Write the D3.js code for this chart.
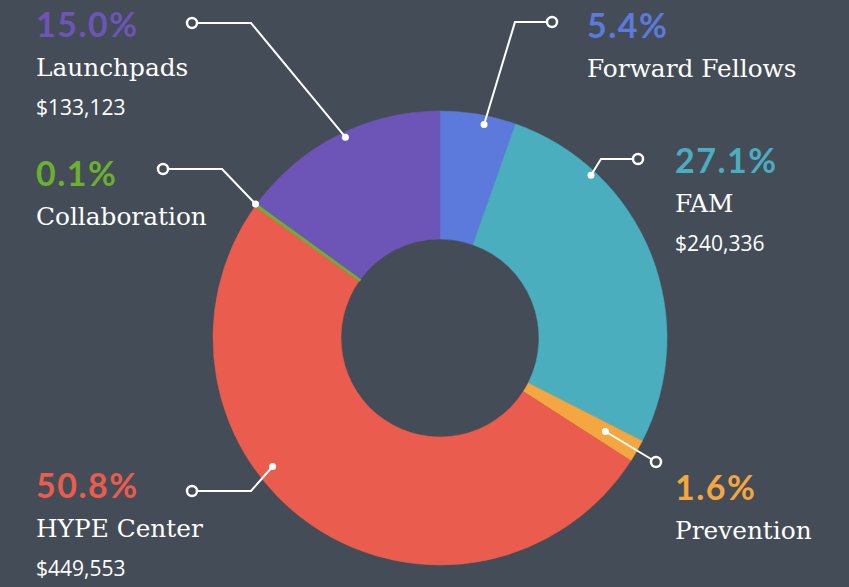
<!DOCTYPE html>
<html lang="en">
  <head>
    <meta charset="UTF-8" />
    <title>Budget share by program</title>
    <script src="https://d3js.org/d3.v7.min.js"></script>
    <style>
      body {
        margin: 0;
        background: #444d57;
      }
      .pct {
        font-family: Lato, sans-serif;
        font-weight: 700;
        font-size: 34px;
        letter-spacing: 1.5px;
      }
      .name {
        font-family: "DejaVu Serif", serif;
        font-size: 24.8px;
        fill: #fff;
      }
      .amount {
        font-family: "Open Sans", sans-serif;
        font-size: 21px;
        fill: #fff;
      }
      .leader {
        fill: none;
        stroke: #fff;
        stroke-width: 2;
      }
    </style>
  </head>
  <body>
    <svg id="chart" width="849" height="587"></svg>

    <script>
      // data, clockwise from 12 o'clock
      const programs = ["Forward Fellows", "FAM", "Prevention", "HYPE Center", "Collaboration", "Launchpads"];
      const shares = [5.4, 27.1, 1.6, 50.8, 0.1, 15.0];
      const amounts = [null, 240336, null, 449553, null, 133123];
      const colors = ["#5b7adb", "#4aaebf", "#f4a641", "#ea5c4d", "#6bb02f", "#6c55b6"];

      // annotation layout: where the dot sits inside its slice (fraction of angle, radius),
      // elbow / end point of the leader and the label block
      const anchorT = [0.6, 0.24, 0.43, 0.6, 1.0, 0.533];
      const anchorR = [218, 222, 190, 211, 228, 222];
      const elbows = [[515, 22], [601, 159], null, [251, 491], [222, 169], [251, 23]];
      const ends = [[552, 22], [638, 159], [656, 462], [192, 491], [163, 169], [192, 23]];
      const labelX = [587, 675, 675, 36, 36, 36];
      const labelY = [38, 173, 500, 498, 186, 37];

      const svg = d3.select("#chart");
      const cx = 440, cy = 338;
      const g = svg.append("g").attr("transform", `translate(${cx},${cy})`);

      const data = programs.map((p, i) => ({ name: p, share: shares[i], amount: amounts[i], color: colors[i], i }));

      const pie = d3.pie().sort(null).value((d) => d.share);
      const arc = d3.arc().innerRadius(99).outerRadius(227);
      const arcs = pie(data);

      g.selectAll("path.slice")
        .data(arcs)
        .enter()
        .append("path")
        .attr("class", "slice")
        .attr("d", arc)
        .attr("fill", (d) => d.data.color)
        .attr("stroke", (d) => d.data.color)
        .attr("stroke-width", 0.5);

      // the tiny slice has to stay visible, draw it again on top with a thicker outline
      g.selectAll("path.thin")
        .data(arcs.filter((d) => d.data.share < 0.5))
        .enter()
        .append("path")
        .attr("class", "thin")
        .attr("d", arc)
        .attr("fill", (d) => d.data.color)
        .attr("stroke", (d) => d.data.color)
        .attr("stroke-width", 2);

      // leader lines
      const fmt = d3.format("$,");
      arcs.forEach((a, i) => {
        const ang = a.startAngle + anchorT[i] * (a.endAngle - a.startAngle);
        const px = cx + anchorR[i] * Math.sin(ang);
        const py = cy - anchorR[i] * Math.cos(ang);
        const pts = [[px, py]];
        if (elbows[i]) pts.push(elbows[i]);
        pts.push(ends[i]);

        svg.append("path").attr("class", "leader").attr("d", d3.line()(pts));
        svg.append("circle").attr("cx", px).attr("cy", py).attr("r", 3.5).attr("fill", "#fff");
        svg.append("circle")
          .attr("cx", ends[i][0])
          .attr("cy", ends[i][1])
          .attr("r", 5)
          .attr("fill", "#444d57")
          .attr("stroke", "#fff")
          .attr("stroke-width", 2.5);

        const lab = svg.append("g").attr("transform", `translate(${labelX[i]},${labelY[i]})`);
        lab.append("text").attr("class", "pct").attr("fill", a.data.color).text(a.data.share.toFixed(1) + "%");
        lab.append("text").attr("class", "name").attr("y", 39).text(a.data.name);
        if (a.data.amount != null) {
          lab.append("text").attr("class", "amount").attr("y", 78).text(fmt(a.data.amount));
        }
      });
    </script>
  </body>
</html>
